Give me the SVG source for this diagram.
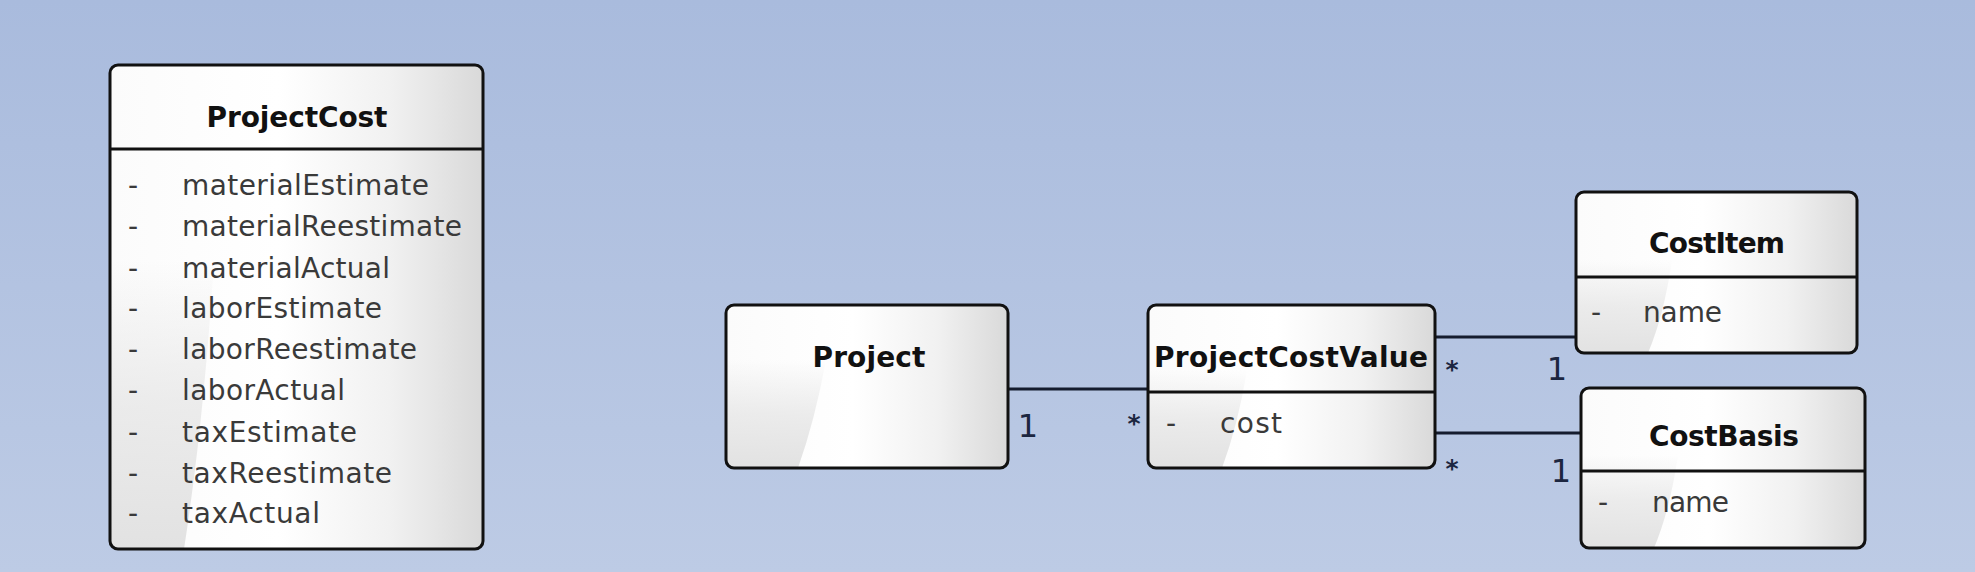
<svg xmlns="http://www.w3.org/2000/svg" width="1975" height="572" viewBox="0 0 1975 572">
  <defs>
    <linearGradient id="bg" x1="0" y1="0" x2="0" y2="1">
      <stop offset="0" stop-color="#a9bbdd"/>
      <stop offset="1" stop-color="#bdcbe5"/>
    </linearGradient>
    <linearGradient id="boxfill" x1="0" y1="0" x2="1" y2="0">
      <stop offset="0" stop-color="#fbfbfb"/>
      <stop offset="0.45" stop-color="#ffffff"/>
      <stop offset="0.75" stop-color="#f1f1f1"/>
      <stop offset="1" stop-color="#d9d9d9"/>
    </linearGradient>
    <linearGradient id="sweep" x1="0" y1="0" x2="0" y2="1">
      <stop offset="0" stop-color="#e2e2e2" stop-opacity="0"/>
      <stop offset="0.5" stop-color="#e4e4e4" stop-opacity="0.7"/>
      <stop offset="1" stop-color="#e2e2e2" stop-opacity="1"/>
    </linearGradient>
    <style>
      .box { fill: url(#boxfill); stroke: none; }
      .frame { fill: none; stroke: #111; stroke-width: 3; }
      .sweep { fill: url(#sweep); }
      .sep { stroke: #111; stroke-width: 3; }
      .title { font-family: "DejaVu Sans", "Liberation Sans", sans-serif; font-weight: bold; font-size: 28px; fill: #111; }
      .attr { font-family: "DejaVu Sans", "Liberation Sans", sans-serif; font-size: 28px; fill: #3a3a3a; }
      .mult { font-family: "DejaVu Sans", "Liberation Sans", sans-serif; font-size: 32px; fill: #1c2640; }
      .star { font-family: "DejaVu Sans", "Liberation Sans", sans-serif; font-size: 25px; font-weight: bold; fill: #1c2640; }
      .conn { stroke: #151c2e; stroke-width: 3; fill: none; }
    </style>
  </defs>

  <rect x="0" y="0" width="1975" height="572" fill="url(#bg)"/>

  <g id="connectors">
    <line class="conn" x1="1008" y1="389" x2="1148" y2="389"/>
    <line class="conn" x1="1435" y1="337" x2="1576" y2="337"/>
    <line class="conn" x1="1435" y1="433" x2="1581" y2="433"/>
    <text class="mult" x="1028" y="437" text-anchor="middle">1</text>
    <text class="star" x="1134" y="432" text-anchor="middle">*</text>
    <text class="star" x="1452" y="378" text-anchor="middle">*</text>
    <text class="mult" x="1557" y="380" text-anchor="middle">1</text>
    <text class="star" x="1452" y="477" text-anchor="middle">*</text>
    <text class="mult" x="1561" y="482" text-anchor="middle">1</text>
  </g>

  <g id="ProjectCost">
    <rect class="box" x="110" y="65" width="373" height="484" rx="8" ry="8"/>
    <path class="sweep" d="M110,260 L214,260 Q204,420 184,549 L118,549 A8,8 0 0 1 110,541 Z"/>
    <rect class="frame" x="110" y="65" width="373" height="484" rx="8" ry="8"/>
    <line class="sep" x1="110" y1="149" x2="483" y2="149"/>
    <text class="title" x="297" y="127" text-anchor="middle" textLength="181">ProjectCost</text>
    <g class="attr">
      <text x="128" y="195">-</text><text x="182" y="195" textLength="247">materialEstimate</text>
      <text x="128" y="236">-</text><text x="182" y="236" textLength="280">materialReestimate</text>
      <text x="128" y="278">-</text><text x="182" y="278" textLength="208">materialActual</text>
      <text x="128" y="318">-</text><text x="182" y="318" textLength="200">laborEstimate</text>
      <text x="128" y="359">-</text><text x="182" y="359" textLength="235">laborReestimate</text>
      <text x="128" y="400">-</text><text x="182" y="400" textLength="163">laborActual</text>
      <text x="128" y="442">-</text><text x="182" y="442" textLength="175">taxEstimate</text>
      <text x="128" y="483">-</text><text x="182" y="483" textLength="210">taxReestimate</text>
      <text x="128" y="523">-</text><text x="182" y="523" textLength="138">taxActual</text>
    </g>
  </g>

  <g id="Project">
    <rect class="box" x="726" y="305" width="282" height="163" rx="8" ry="8"/>
    <path class="sweep" d="M726,360 L826,360 Q815,420 798,468 L734,468 A8,8 0 0 1 726,460 Z"/>
    <rect class="frame" x="726" y="305" width="282" height="163" rx="8" ry="8"/>
    <text class="title" x="869" y="367" text-anchor="middle" textLength="113">Project</text>
  </g>

  <g id="ProjectCostValue">
    <rect class="box" x="1148" y="305" width="287" height="163" rx="8" ry="8"/>
    <path class="sweep" d="M1148,370 L1247,370 Q1238,425 1222,468 L1156,468 A8,8 0 0 1 1148,460 Z"/>
    <rect class="frame" x="1148" y="305" width="287" height="163" rx="8" ry="8"/>
    <line class="sep" x1="1148" y1="392" x2="1435" y2="392"/>
    <text class="title" x="1291" y="367" text-anchor="middle" textLength="274">ProjectCostValue</text>
    <text class="attr" x="1166" y="433">-</text>
    <text class="attr" x="1220" y="433" textLength="62">cost</text>
  </g>

  <g id="CostItem">
    <rect class="box" x="1576" y="192" width="281" height="161" rx="8" ry="8"/>
    <path class="sweep" d="M1576,260 L1672,260 Q1664,315 1648,353 L1584,353 A8,8 0 0 1 1576,345 Z"/>
    <rect class="frame" x="1576" y="192" width="281" height="161" rx="8" ry="8"/>
    <line class="sep" x1="1576" y1="277" x2="1857" y2="277"/>
    <text class="title" x="1717" y="253" text-anchor="middle" textLength="136">CostItem</text>
    <text class="attr" x="1591" y="322">-</text>
    <text class="attr" x="1643" y="322" textLength="79">name</text>
  </g>

  <g id="CostBasis">
    <rect class="box" x="1581" y="388" width="284" height="160" rx="8" ry="8"/>
    <path class="sweep" d="M1581,455 L1678,455 Q1670,510 1654,548 L1589,548 A8,8 0 0 1 1581,540 Z"/>
    <rect class="frame" x="1581" y="388" width="284" height="160" rx="8" ry="8"/>
    <line class="sep" x1="1581" y1="471" x2="1865" y2="471"/>
    <text class="title" x="1724" y="446" text-anchor="middle" textLength="150">CostBasis</text>
    <text class="attr" x="1598" y="512">-</text>
    <text class="attr" x="1652" y="512" textLength="77">name</text>
  </g>
</svg>
